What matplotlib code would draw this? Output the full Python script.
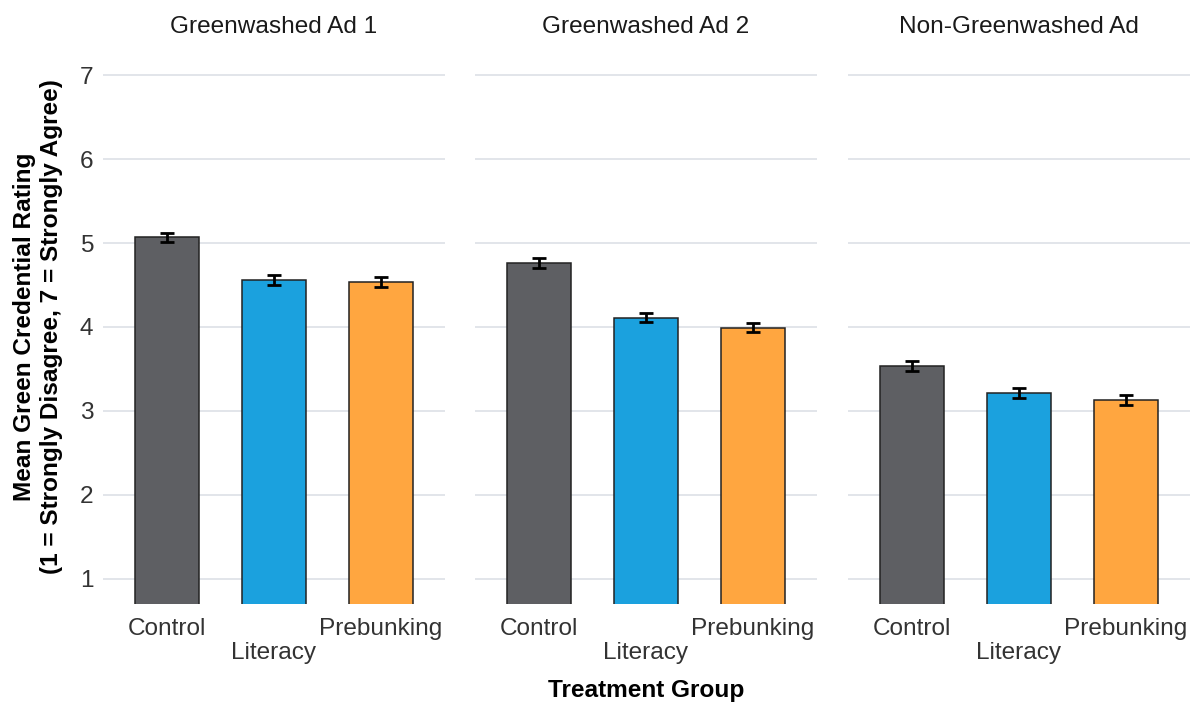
import matplotlib.pyplot as plt
import numpy as np

plt.rcParams['font.family'] = ['Liberation Sans', 'DejaVu Sans']

# mean rating per ad and treatment group, with standard errors
ads = ["Greenwashed Ad 1", "Greenwashed Ad 2", "Non-Greenwashed Ad"]
groups = ["Control", "Literacy", "Prebunking"]
means = [
    [5.07, 4.56, 4.54],
    [4.76, 4.11, 3.99],
    [3.54, 3.21, 3.13],
]
errors = [
    [0.055, 0.055, 0.06],
    [0.06, 0.055, 0.055],
    [0.06, 0.06, 0.065],
]
colors = ["#5e5f63", "#1ba1de", "#ffa640"]
yticks = [1, 2, 3, 4, 5, 6, 7]

FS = 17.6

fig = plt.figure(figsize=(11.95, 7.04), dpi=100)

W, H = 1195, 704
lefts = [103, 475, 848]
width_px = 342
top_px, bottom_px = 50, 604

x = np.arange(len(groups))
axes = []
for i, ad in enumerate(ads):
    ax = fig.add_axes([lefts[i] / W, 1 - bottom_px / H,
                       width_px / W, (bottom_px - top_px) / H])
    axes.append(ax)
    ax.bar(x, means[i], width=0.6, bottom=0, color=colors,
           edgecolor="#222222", linewidth=1.1, zorder=2)
    ax.errorbar(x, means[i], yerr=errors[i], fmt="none", ecolor="black",
                elinewidth=2, capsize=5, capthick=2, zorder=3)
    ax.set_xlim(-0.6, 2.6)
    ax.set_ylim(0.7, 7.3)
    ax.set_yticks(yticks)
    ax.grid(axis="y", color="#dfe3e8", linewidth=1.3, zorder=0)
    ax.grid(axis="x", visible=False)
    for s in ax.spines.values():
        s.set_visible(False)
    ax.tick_params(length=0, labelsize=FS, labelcolor="#333333")
    ax.tick_params(axis="x", pad=10)
    ax.tick_params(axis="y", pad=7)
    ax.set_xticks(x)
    # stagger the middle label onto a second row
    ax.set_xticklabels(["Control", "\nLiteracy", "Prebunking"], linespacing=1.12)
    if i > 0:
        ax.set_yticklabels([])
    ax.set_title(ad, fontsize=FS, color="#1a1a1a", pad=12)

fig.text(38 / W, 1 - 327 / H,
         "Mean Green Credential Rating\n(1 = Strongly Disagree, 7 = Strongly Agree)",
         rotation=90, ha="center", va="center", fontsize=FS,
         fontweight="bold", linespacing=1.2)
fig.text(646 / W, 1 - 690 / H, "Treatment Group", ha="center", va="center",
         fontsize=FS, fontweight="bold")

fig.savefig("out.png", dpi=100)
